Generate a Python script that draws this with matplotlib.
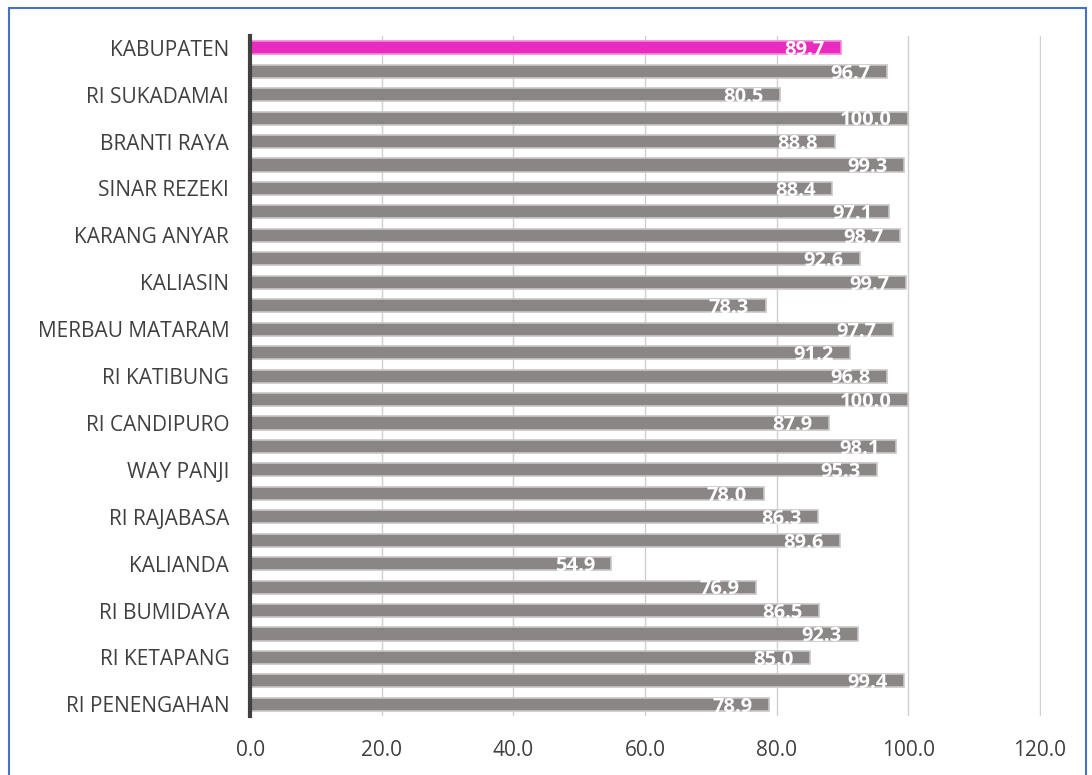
import matplotlib.pyplot as plt
from matplotlib.patches import Rectangle

plt.rcParams['font.family'] = ['Open Sans', 'DejaVu Sans']

# data (top to bottom); only every other category label is shown in the chart
categories = ['KABUPATEN', '', 'RI SUKADAMAI', '', 'BRANTI RAYA', '', 'SINAR REZEKI', '',
              'KARANG ANYAR', '', 'KALIASIN', '', 'MERBAU MATARAM', '', 'RI KATIBUNG', '',
              'RI CANDIPURO', '', 'WAY PANJI', '', 'RI RAJABASA', '', 'KALIANDA', '',
              'RI BUMIDAYA', '', 'RI KETAPANG', '', 'RI PENENGAHAN']
values = [89.7, 96.7, 80.5, 100.0, 88.8, 99.3, 88.4, 97.1, 98.7, 92.6, 99.7, 78.3,
          97.7, 91.2, 96.8, 100.0, 87.9, 98.1, 95.3, 78.0, 86.3, 89.6, 54.9, 76.9,
          86.5, 92.3, 85.0, 99.4, 78.9]
xticks = [0, 20, 40, 60, 80, 100, 120]

fig = plt.figure(figsize=(10.92, 7.75), dpi=100)
ax = fig.add_axes([0.229, 0.076, 0.7246, 0.8775])

pos = list(range(len(values)))
colors = ['#e92bbf'] + ['#8a8685'] * (len(values) - 1)
edges = ['#f08ad8'] + ['#c9c6c5'] * (len(values) - 1)
ax.barh(pos, values, height=0.56, color=colors, edgecolor=edges, linewidth=1.2, zorder=2)

for p, v in zip(pos, values):
  ax.text(v - 2.5, p + 0.1, f'{v:.1f}', ha='right', va='center', color='white',
          fontsize=14.5, fontweight='bold', zorder=3)

ax.set_xlim(0, 120.2)
ax.set_ylim(len(values) - 0.5, -0.5)
ax.set_yticks(pos)
ax.set_yticklabels(categories)
ax.set_xticks(xticks)
ax.set_xticklabels([f'{t:.1f}' for t in xticks])
ax.tick_params(axis='both', length=0, labelsize=15, labelcolor='#404040')
ax.tick_params(axis='y', pad=15)
ax.tick_params(axis='x', pad=17)
ax.grid(axis='x', color='#d0d0d0', linewidth=1.0, zorder=0)
ax.set_axisbelow(True)
for s in ['top', 'right', 'bottom']:
  ax.spines[s].set_visible(False)
ax.spines['left'].set_color('#404040')
ax.spines['left'].set_linewidth(3)
ax.spines['left'].set_zorder(4)

# outer chart border
fig.patches.append(Rectangle((9 / 1092, -0.01), 1077 / 1092, 1 - 8 / 775 + 0.01,
                             transform=fig.transFigure, fill=False,
                             edgecolor='#4472c4', linewidth=1.5))

fig.savefig('out.png', dpi=100)
